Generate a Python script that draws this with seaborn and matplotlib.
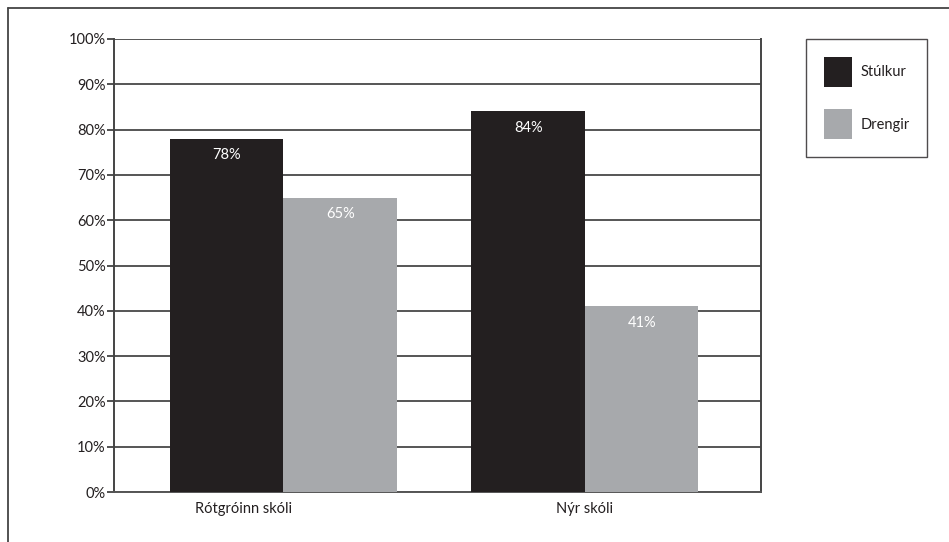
import matplotlib
matplotlib.use("Agg")
import matplotlib.pyplot as plt
import matplotlib.transforms as mtransforms
from matplotlib.lines import Line2D
import seaborn as sns
import pandas as pd

# ---- data ----
categories = ["Rótgróinn skóli", "Nýr skóli"]
series_names = ["Stúlkur", "Drengir"]
stulkur = [78, 84]
drengir = [65, 41]
y_ticks = [0, 10, 20, 30, 40, 50, 60, 70, 80, 90, 100]
y_tick_labels = [f"{t}%" for t in y_ticks]

df = pd.DataFrame({
    "skoli": categories * 2,
    "hopur": [series_names[0]] * len(categories) + [series_names[1]] * len(categories),
    "hlutfall": stulkur + drengir,
})

sns.set_theme(style="white")
plt.rcParams["font.family"] = ["Lato", "DejaVu Sans"]

W, H = 949, 542
fig = plt.figure(figsize=(W / 100, H / 100), dpi=100)
ax = fig.add_axes([114 / W, 1 - 492 / H, (761 - 114) / W, (492 - 39) / H])

palette = {"Stúlkur": "#231f20", "Drengir": "#a7a9ac"}
sns.barplot(data=df, x="skoli", y="hlutfall", hue="hopur", order=categories,
            hue_order=series_names, palette=palette, width=0.753,
            saturation=1, ax=ax, zorder=3, linewidth=0)

ax.set_ylim(0, 100)
ax.set_xlim(-0.562, 1.584)
ax.set_yticks(y_ticks)
ax.set_yticklabels(y_tick_labels, fontsize=10.5, color="#231f20")
ax.set_xticks([0, 1])
ax.set_xticklabels(categories, fontsize=10.5, color="#231f20")
ax.tick_params(axis="x", which="major", length=0, pad=7)
ax.set_xticks(list(ax.get_xlim()), minor=True)
ax.tick_params(axis="x", which="minor", length=8, width=1.3, color="#444444", direction="out")
ax.tick_params(axis="y", length=5, width=1.2, color="#333333", direction="out", pad=1, left=True)
ax.set_xlabel("")
ax.set_ylabel("")

# shift first category label slightly left (as in reference)
lbls = ax.get_xticklabels()
lbls[0].set_transform(lbls[0].get_transform() +
                      mtransforms.ScaledTranslation(-40 / 100, 0, fig.dpi_scale_trans))

ax.yaxis.grid(True, color="#555555", linewidth=1.4, zorder=0)
ax.xaxis.grid(False)
ax.set_axisbelow(True)
for side in ["left", "right"]:
    ax.spines[side].set_visible(True)
    ax.spines[side].set_color("#444444")
    ax.spines[side].set_linewidth(1.4)
ax.spines["top"].set_visible(False)
ax.spines["bottom"].set_color("#555555")
ax.spines["bottom"].set_linewidth(1.4)

# value labels inside bars
for cont in ax.containers:
    vals = [int(round(b.get_height())) for b in cont]
    ax.bar_label(cont, labels=[f"{v}%" for v in vals], label_type="edge",
                 padding=-17, color="white", fontsize=10.5)

# legend
handles, labels = ax.get_legend_handles_labels()
if ax.get_legend() is not None:
    ax.get_legend().remove()
leg = ax.legend(handles, labels, loc="upper left",
                bbox_to_anchor=(806 / W, 1 - 39 / H), bbox_transform=fig.transFigure,
                borderaxespad=0, fontsize=10.5, handlelength=1.95, handleheight=2.8,
                handletextpad=0.6, labelspacing=1.55, borderpad=1.2,
                fancybox=False, shadow=False, frameon=True)
leg.get_frame().set_edgecolor("#231f20")
leg.get_frame().set_linewidth(1.0)
for t in leg.get_texts():
    t.set_color("#231f20")

# outer frame lines (top and left)
fig.add_artist(Line2D([8 / W, 1], [1 - 8 / H, 1 - 8 / H], transform=fig.transFigure,
                      color="#444444", linewidth=1.3))
fig.add_artist(Line2D([8 / W, 8 / W], [0, 1 - 8 / H], transform=fig.transFigure,
                      color="#444444", linewidth=1.3))

fig.savefig("out.png", dpi=100)
